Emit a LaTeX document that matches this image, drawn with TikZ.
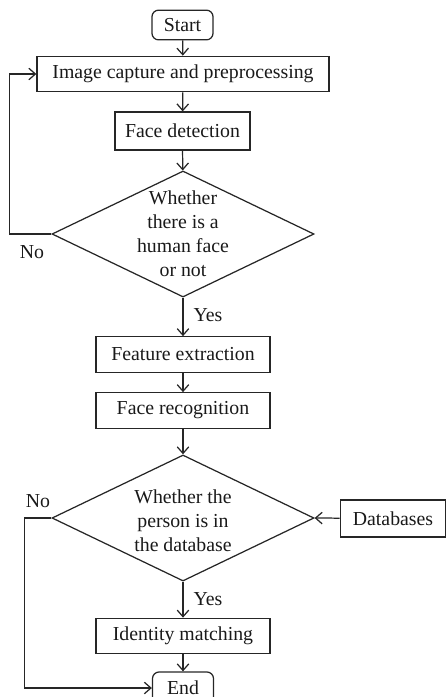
\documentclass[tikz,border=0pt]{standalone}
\usepackage{fontspec}
\setmainfont{Liberation Serif}
\usepackage{tikz}
\usetikzlibrary{shapes.geometric, arrows.meta, positioning}

\begin{document}
\begin{tikzpicture}[x=0.606pt, y=-0.606pt,
    every node/.style={font=\fontsize{12}{14.5}\selectfont, text=black!90},
    procbox/.style={draw=black!85, line width=0.75pt, inner sep=0pt, minimum height=21.5pt},
    termbox/.style={draw=black!85, line width=0.75pt, rounded corners=4pt, inner sep=0pt, minimum width=37pt, minimum height=18pt},
    decision/.style={draw=black!85, line width=0.75pt, diamond, inner sep=0pt, minimum width=158.8pt, minimum height=76.4pt},
    arr/.style={draw=black!85, line width=0.75pt, -{Straight Barb[length=4pt, width=7pt]}}]

    \useasboundingbox (0,0) rectangle (447,697);

    % ---------------- UPPER PART ----------------
    \node[termbox] (start) at (182.5,25) {Start};
    \node[procbox, minimum width=177pt] (capture) at (183,74) {Image capture and preprocessing};
    \node[procbox, minimum width=81.8pt, minimum height=23pt] (detect) at (182.5,131) {Face detection};
    \node[decision] (face) at (183,234) {};
    \node[align=center] (facetext) at (183,234) {Whether\\there is a\\human face\\or not};

    \draw[arr] (start) -- (capture);
    \draw[arr] (capture) -- (detect);
    \draw[arr] (detect) -- (face);
    \draw[arr] (face.west) -- ++(-42,0) |- (capture.west); % back to capture
    \node (no1) at (32,252) {No};

    % ---------------- MIDDLE PART ----------------
    \node[procbox, minimum width=105.4pt] (extract) at (183,354.5) {Feature extraction};
    \node[procbox, minimum width=105.4pt] (recog) at (183,410.5) {Face recognition};
    \node[decision] (person) at (183,518) {};
    \node[align=center] (persontext) at (183,521) {Whether the\\person is in\\the database};
    \node[procbox, minimum width=64pt, minimum height=22.4pt] (db) at (393,518.5) {Databases};

    \draw[arr] (face) -- (extract);
    \node (yes1) at (208,315) {Yes};
    \draw[arr] (extract) -- (recog);
    \draw[arr] (recog) -- (person);
    \draw[arr] (db) -- (person.east);

    % ---------------- LOWER PART ----------------
    \node[procbox, minimum width=105.4pt] (match) at (183,636) {Identity matching};
    \node[termbox, minimum height=19.4pt] (end) at (183,688) {End};

    \draw[arr] (person) -- (match);
    \node (yes2) at (208,599) {Yes};
    \draw[arr] (match) -- (end);
    \draw[arr] (person.west) -- ++(-27,0) |- (end.west); % not found
    \node (no2) at (38,501) {No};
\end{tikzpicture}
\end{document}
